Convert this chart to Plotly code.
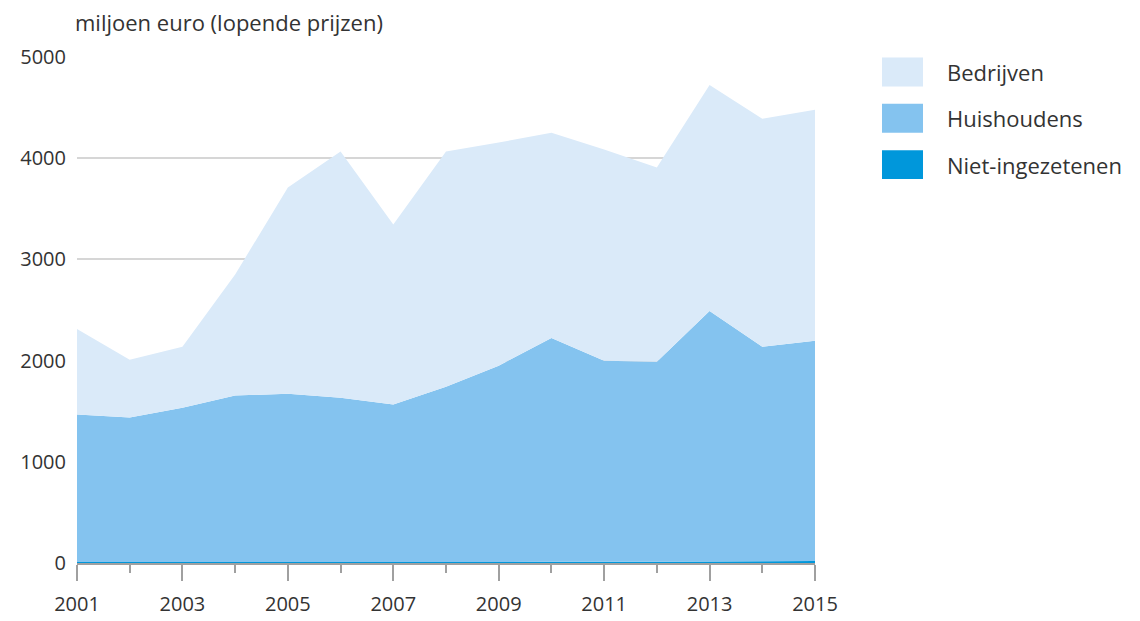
import plotly.graph_objects as go

years = list(range(2001, 2016))
totaal = [2313, 2008, 2136, 2850, 3711, 4065, 3346, 4065, 4154, 4252, 4085, 3907, 4724, 4390, 4478]
huis_cum = [1467, 1437, 1535, 1654, 1673, 1634, 1565, 1742, 1949, 2224, 1998, 1988, 2490, 2136, 2195]
niet = [10, 10, 10, 10, 10, 10, 10, 10, 10, 12, 12, 12, 15, 18, 20]
huishoudens = [h - n for h, n in zip(huis_cum, niet)]
bedrijven = [t - h for t, h in zip(totaal, huis_cum)]

series = ["Niet-ingezetenen", "Huishoudens", "Bedrijven"]
colors = {"Bedrijven": "#daeaf9", "Huishoudens": "#84c3ef", "Niet-ingezetenen": "#0097db"}
values = {"Niet-ingezetenen": niet, "Huishoudens": huishoudens, "Bedrijven": bedrijven}

FONT = "Open Sans"
# page body adds an 8px offset; plot area target: x 77..815, y 57..565 on screen
L, T = 77 - 8, 57 - 8
PW, PH = 738, 508
fig = go.Figure()
for s in series:
    fig.add_trace(go.Scatter(
        x=years, y=values[s], name=s, stackgroup="one", mode="none",
        fillcolor=colors[s], line=dict(width=0), showlegend=False))

legend_order = ["Bedrijven", "Huishoudens", "Niet-ingezetenen"]
for i, s in enumerate(legend_order):
    yc = 72 + i * 46.5
    fig.add_shape(type="rect", xref="paper", yref="paper",
                  x0=(882 - 77) / PW, x1=(923 - 77) / PW,
                  y0=(565 - (yc + 14.5)) / PH, y1=(565 - (yc - 14.5)) / PH,
                  fillcolor=colors[s], line=dict(width=0))
    fig.add_annotation(xref="paper", yref="paper", x=(945 - 77) / PW,
                       y=(565 - yc) / PH, text=s, showarrow=False,
                       xanchor="left", yanchor="middle",
                       font=dict(family=FONT, size=22, color="#333333"))

fig.add_annotation(xref="paper", yref="paper", x=-0.005, y=(565 - 22) / PH,
                   text="miljoen euro (lopende prijzen)", showarrow=False,
                   xanchor="left", yanchor="middle",
                   font=dict(family=FONT, size=22, color="#333333"))

fig.update_layout(
    width=1140, height=621,
    margin=dict(l=L, r=1140 - L - PW, t=T, b=621 - T - PH),
    plot_bgcolor="white", paper_bgcolor="white",
    font=dict(family=FONT, size=20, color="#333333"),
    xaxis=dict(range=[2001, 2015], tickmode="linear", tick0=2001, dtick=2,
               ticks="outside", ticklen=16, tickwidth=1.5, tickcolor="#a0a0a0",
               minor=dict(dtick=1, tick0=2001, ticks="outside", ticklen=8,
                          tickwidth=1.5, tickcolor="#a0a0a0"),
               showgrid=False, zeroline=False, showline=True,
               linecolor="#a0a0a0", linewidth=1.5, ticklabelstandoff=6,
               tickfont=dict(family=FONT, size=20, color="#333333")),
    yaxis=dict(range=[0, 5000], tickvals=[0, 1000, 2000, 3000, 4000, 5000],
               showgrid=True, gridcolor="#d6d6d6", gridwidth=1.5,
               zeroline=False, ticks="", ticklabelstandoff=10,
               tickfont=dict(family=FONT, size=20, color="#333333")),
)

fig.write_html("out.html")
